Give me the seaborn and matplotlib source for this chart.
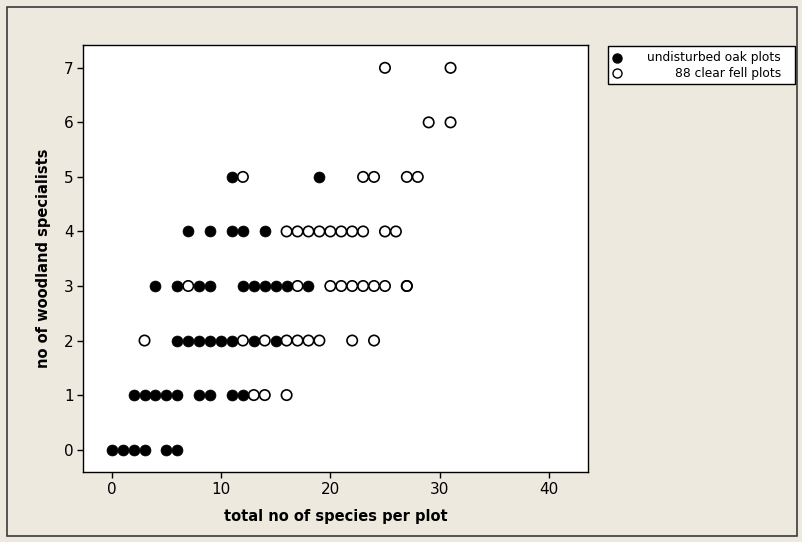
import pandas as pd
import matplotlib
matplotlib.use("Agg")
import matplotlib.pyplot as plt
import seaborn as sns
from matplotlib.patches import Rectangle
from matplotlib.lines import Line2D

# --- data (one line per specialist count) ---
oak_species = [
    0, 1, 2, 3, 5, 6,
    2, 3, 4, 5, 6, 8, 9, 11, 12,
    6, 7, 8, 9, 10, 11, 13, 15,
    4, 6, 8, 9, 12, 13, 14, 15, 16, 18,
    7, 9, 11, 12, 14,
    11, 19,
]
oak_specialists = [
    0, 0, 0, 0, 0, 0,
    1, 1, 1, 1, 1, 1, 1, 1, 1,
    2, 2, 2, 2, 2, 2, 2, 2,
    3, 3, 3, 3, 3, 3, 3, 3, 3, 3,
    4, 4, 4, 4, 4,
    5, 5,
]
fell_species = [
    13, 14, 16,
    3, 12, 14, 16, 17, 18, 19, 22, 24,
    7, 17, 20, 21, 22, 23, 24, 25, 27, 27,
    16, 17, 18, 19, 20, 21, 22, 23, 25, 26,
    12, 23, 24, 27, 28,
    29, 31,
    25, 31,
]
fell_specialists = [
    1, 1, 1,
    2, 2, 2, 2, 2, 2, 2, 2, 2,
    3, 3, 3, 3, 3, 3, 3, 3, 3, 3,
    4, 4, 4, 4, 4, 4, 4, 4, 4, 4,
    5, 5, 5, 5, 5,
    6, 6,
    7, 7,
]
series_labels = ["undisturbed oak plots", "88 clear fell plots"]
x_ticks = [0, 10, 20, 30, 40]
y_ticks = [0, 1, 2, 3, 4, 5, 6, 7]

df_oak = pd.DataFrame({"species": oak_species, "specialists": oak_specialists})
df_fell = pd.DataFrame({"species": fell_species, "specialists": fell_specialists})

BG = "#EDE9DE"

sns.set_theme(style="ticks")
plt.rcParams["font.family"] = ["DejaVu Sans"]
plt.rcParams["axes.edgecolor"] = "black"
plt.rcParams["axes.labelcolor"] = "black"
plt.rcParams["text.color"] = "black"
plt.rcParams["xtick.color"] = "black"
plt.rcParams["ytick.color"] = "black"
plt.rcParams["xtick.labelcolor"] = "black"
plt.rcParams["ytick.labelcolor"] = "black"

fig = plt.figure(figsize=(8.03, 5.42), dpi=100, facecolor=BG)
ax = fig.add_axes([0.1039, 0.1292, 0.6284, 0.7869])
ax.set_facecolor("white")

sns.scatterplot(data=df_oak, x="species", y="specialists", color="black",
                edgecolor="black", s=62, linewidth=0.5, ax=ax, legend=False)
sns.scatterplot(data=df_fell, x="species", y="specialists", color="black",
                edgecolor="black", s=56, linewidth=1.2, ax=ax, legend=False)
open_pts = ax.collections[-1]
open_pts.set_facecolor("none")
open_pts.set_edgecolor("black")

ax.set_xlim(-2.59, 43.58)
ax.set_ylim(-0.41, 7.41)
ax.set_xticks(x_ticks)
ax.set_yticks(y_ticks)
ax.tick_params(direction="out", length=4, width=1, labelsize=11, pad=3,
               colors="black", labelcolor="black")
for sp in ax.spines.values():
    sp.set_visible(True)
    sp.set_linewidth(1.0)
    sp.set_color("black")

ax.set_xlabel("total no of species per plot", fontsize=10.5, fontweight="bold",
              labelpad=9, color="black")
ax.set_ylabel("no of woodland specialists", fontsize=10.5, fontweight="bold",
              labelpad=9, color="black")

# outer frame of the graph window
fig.add_artist(Rectangle((7 / 803, 6 / 542), 790 / 803, 529 / 542, transform=fig.transFigure,
                         fill=False, edgecolor="#3a3a3a", linewidth=1.2))

# legend box (right of plot, aligned with top)
lx0, lx1 = 607.7 / 803, 795 / 803
ly_top, ly_bot = 1 - 45.5 / 542, 1 - 84 / 542
fig.add_artist(Rectangle((lx0, ly_bot), lx1 - lx0, ly_top - ly_bot, transform=fig.transFigure,
                         facecolor="white", edgecolor="black", linewidth=1.0))
mk_x = 617 / 803
txt_x = 781 / 803
for i, lab in enumerate(series_labels):
    yy = 1 - (57.5 + 15.5 * i) / 542
    fc = "black" if i == 0 else "none"
    fig.add_artist(Line2D([mk_x], [yy], marker="o", markersize=6.5, markerfacecolor=fc,
                          markeredgecolor="black", markeredgewidth=1.0, linestyle="none",
                          transform=fig.transFigure))
    fig.text(txt_x, yy, lab, ha="right", va="center", fontsize=8.8, color="black")

fig.savefig("out.png", dpi=100, facecolor=BG)
plt.close(fig)
